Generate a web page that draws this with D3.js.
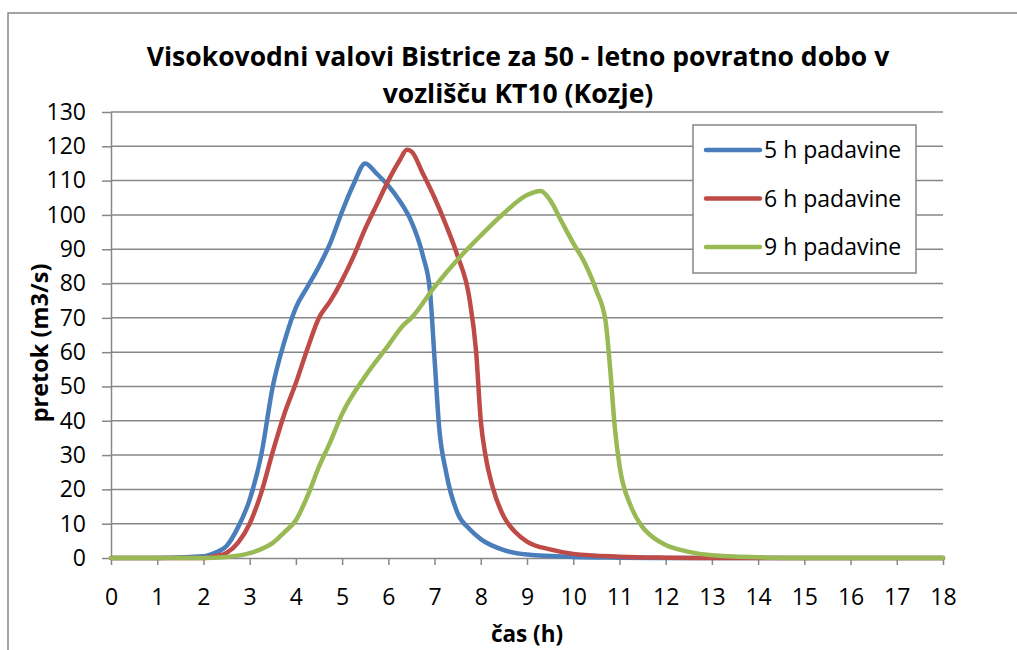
<!DOCTYPE html>
<meta charset="utf-8">
<script src="https://cdn.jsdelivr.net/npm/d3@7"></script>
<style>
html, body { margin: 0; background: #fff; overflow: hidden; }
svg { display: block; }
text { fill: #000; font-family: "Open Sans", "Noto Sans", sans-serif; }
.grid line { stroke: #878787; stroke-width: 1.5px; }
.axis path, .axis line { stroke: #878787; stroke-width: 1.5px; }
.series { fill: none; stroke-width: 4.5px; stroke-linejoin: round; stroke-linecap: round; }
</style>
<body>
<script>

// casovni koraki (h) in pretoki (m3/s), odcitani s slike
var t5 = [0, 1, 2, 2.25, 2.5, 2.75, 3, 3.25, 3.5, 3.75, 4, 4.25, 4.5, 4.75, 5, 5.25, 5.5, 5.75, 6, 6.25, 6.5, 6.75, 6.9, 7, 7.1, 7.25, 7.5, 7.75, 8, 8.5, 9, 10, 11, 12, 18];
var q5 = [0, 0, 0.5, 1.5, 3.5, 9, 17, 30, 50, 63, 73, 79, 85, 92, 101, 109, 115, 112, 108.5, 104, 98, 88, 78, 58, 38, 25, 13, 8.5, 5.5, 2.3, 1, 0.3, 0.1, 0, 0];

var t6 = [0, 2, 2.25, 2.5, 2.75, 3, 3.25, 3.5, 3.75, 4, 4.25, 4.5, 4.75, 5, 5.25, 5.5, 5.75, 6, 6.25, 6.4, 6.5, 6.75, 7, 7.25, 7.5, 7.75, 7.9, 8, 8.1, 8.25, 8.5, 8.75, 9, 9.5, 10, 11, 12, 13, 18];
var q6 = [0, 0, 0.5, 1.5, 4.5, 10, 19, 31, 42, 51, 61, 70, 75, 81, 88, 96, 103, 110, 116, 119, 118.5, 112, 105, 97, 88, 76, 60, 40, 30, 21, 12, 7.5, 4.8, 2.5, 1.2, 0.4, 0.1, 0, 0];

var t9 = [0, 2, 2.5, 3, 3.25, 3.5, 3.75, 4, 4.25, 4.5, 4.75, 5, 5.5, 6, 6.3, 6.5, 7, 7.5, 8, 8.5, 9, 9.3, 9.5, 9.75, 10, 10.25, 10.5, 10.7, 10.8, 10.9, 11, 11.25, 11.5, 11.75, 12, 12.5, 13, 14, 15, 18];
var q9 = [0, 0, 0.3, 1.4, 2.6, 4.4, 7.5, 11, 18, 26.6, 34, 42, 53, 62, 67.5, 70, 79, 87, 94, 100.5, 105.8, 107, 104.3, 98, 91.8, 86, 78, 69, 55, 38, 27, 15, 9, 5.8, 3.8, 1.8, 0.8, 0.2, 0, 0];

var seriesNames = ["5 h padavine", "6 h padavine", "9 h padavine"];
var seriesColors = ["#4a7ebb", "#be4b48", "#98b954"];
var xTicks = d3.range(0, 19, 1);
var yTicks = d3.range(0, 131, 10);

var titleLines = ["Visokovodni valovi Bistrice za 50 - letno povratno dobo v", "vozlišču KT10 (Kozje)"];

var width = 1017, height = 650;
var plot = {left: 111, right: 943, top: 112, bottom: 558};

var svg = d3.select("body").append("svg")
    .attr("width", width)
    .attr("height", height);

// okvir grafikona
svg.append("rect")
    .attr("x", 8).attr("y", 13)
    .attr("width", 1030).attr("height", 660)
    .attr("fill", "none")
    .attr("stroke", "#878787")
    .attr("stroke-width", 1.5);

var x = d3.scaleLinear().domain([0, 18]).range([plot.left, plot.right]);
var y = d3.scaleLinear().domain([0, 130]).range([plot.bottom, plot.top]);

// mreza
svg.append("g").attr("class", "grid")
  .selectAll("line")
  .data(yTicks.filter(function(d) { return d > 0; }))
  .enter().append("line")
    .attr("x1", plot.left).attr("x2", plot.right)
    .attr("y1", function(d) { return y(d); })
    .attr("y2", function(d) { return y(d); });

var yAxis = svg.append("g").attr("class", "axis")
    .attr("transform", "translate(" + plot.left + ",0)")
    .call(d3.axisLeft(y).tickValues(yTicks).tickSize(9).tickPadding(16).tickSizeOuter(0));
yAxis.selectAll("text").style("font-size", "23px");

var xAxis = svg.append("g").attr("class", "axis")
    .attr("transform", "translate(0," + plot.bottom + ")")
    .call(d3.axisBottom(x).tickValues(xTicks).tickSize(7).tickPadding(24).tickSizeOuter(0));
xAxis.selectAll("text").style("font-size", "23px");

var line = d3.line()
    .x(function(d) { return x(d[0]); })
    .y(function(d) { return y(d[1]); })
    .curve(d3.curveMonotoneX);

var data = [d3.zip(t5, q5), d3.zip(t6, q6), d3.zip(t9, q9)];

svg.append("g").selectAll("path")
  .data(data)
  .enter().append("path")
    .attr("class", "series")
    .attr("stroke", function(d, i) { return seriesColors[i]; })
    .attr("d", line);

// naslov
var title = svg.append("g");
titleLines.forEach(function(s, i) {
  var tx = title.append("text")
      .attr("x", 518).attr("y", 57 + i * 37)
      .attr("dy", "0.35em")
      .attr("text-anchor", "middle")
      .style("font-weight", "bold")
      .style("font-size", "24px")
      .text(s);
  // prilagodi sirino prve vrstice (original je Calibri)
  if (i == 0) {
    var w = tx.node().getComputedTextLength();
    var fs = 24 * 743 / w;
    tx.style("font-size", fs + "px");
  }
});
var fs1 = title.select("text").style("font-size");
title.selectAll("text").style("font-size", fs1);

svg.append("text")
    .attr("x", 527).attr("y", 634)
    .attr("dy", "0.35em")
    .attr("text-anchor", "middle")
    .style("font-weight", "bold")
    .style("font-size", "22.5px")
    .text("čas (h)");

svg.append("text")
    .attr("transform", "translate(40,343) rotate(-90)")
    .attr("dy", "0.35em")
    .attr("text-anchor", "middle")
    .style("font-weight", "bold")
    .style("font-size", "23.5px")
    .text("pretok (m3/s)");

// legenda
var legend = svg.append("g");
legend.append("rect")
    .attr("x", 693).attr("y", 125)
    .attr("width", 223).attr("height", 148)
    .attr("fill", "#fff")
    .attr("stroke", "#878787")
    .attr("stroke-width", 1.5);

seriesNames.forEach(function(name, i) {
  var ly = 150 + i * 48.5;
  legend.append("line")
      .attr("x1", 706).attr("x2", 760)
      .attr("y1", ly).attr("y2", ly)
      .attr("stroke", seriesColors[i])
      .attr("stroke-width", 4.5)
      .attr("stroke-linecap", "round");
  legend.append("text")
      .attr("x", 764).attr("y", ly)
      .attr("dy", "0.35em")
      .style("font-size", "23px")
      .text(name);
});

</script>
</body>
